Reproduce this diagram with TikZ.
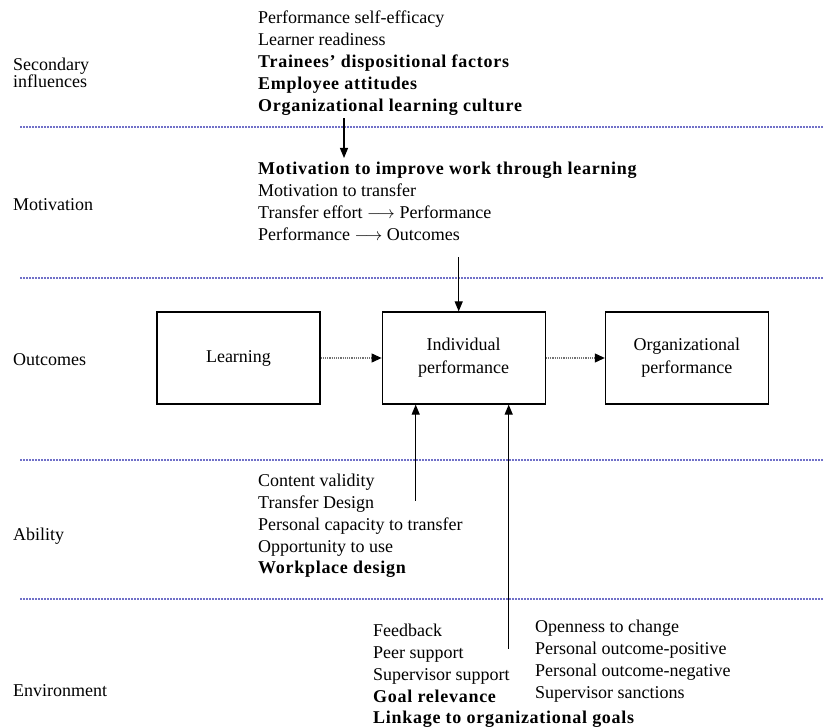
\documentclass[tikz,border=0pt]{standalone}
\usepackage{fontspec}
\setmainfont{Liberation Serif}[BoldFeatures={LetterSpace=4}]
\usetikzlibrary{shapes,arrows.meta,positioning}
\definecolor{rulecolor}{RGB}{112,112,200}

\begin{document}
\begin{tikzpicture}[x=1pt,y=-1pt,
    every node/.style={font=\fontsize{18}{21.8}\selectfont, inner sep=0pt},
    stagelabel/.style={anchor=base west},
    factorlist/.style={anchor=north west, align=left},
    outcomebox/.style={draw, line width=1.2pt, minimum width=163pt, minimum height=92pt, align=center, font=\fontsize{18}{23}\selectfont},
    divider/.style={draw=rulecolor, line width=1.2pt, dash pattern=on 2pt off 1pt},
    push/.style={line width=1.1pt, -{Triangle[length=10pt,width=8pt]}},
    flow/.style={draw=black!55, line width=1.1pt, dash pattern=on 1.2pt off 1pt, -{Triangle[length=10pt,width=9pt,color=black]}}]
    \useasboundingbox (0,0) rectangle (823,727);

    % Stage labels
    \node[factorlist, font=\fontsize{18}{17}\selectfont] (lblsec) at (13,58) {Secondary\\influences};
    \node[stagelabel] (lblmot) at (13,211) {Motivation};
    \node[stagelabel] (lblout) at (13,366) {Outcomes};
    \node[stagelabel] (lblabl) at (13,540) {Ability};
    \node[stagelabel] (lblenv) at (13,696) {Environment};

    % Stage dividers
    \foreach \y in {127,278,460,599}
        \draw[divider] (20,\y) -- (823,\y);

    % Factor lists
    \node[factorlist] (secfactors) at (258,11) {Performance self-efficacy\\Learner readiness\\\textbf{Trainees’ dispositional factors}\\\textbf{Employee attitudes}\\\textbf{Organizational learning culture}};
    \node[factorlist] (motfactors) at (258,162) {\textbf{Motivation to improve work through learning}\\Motivation to transfer\\Transfer effort $\longrightarrow$ Performance\\Performance $\longrightarrow$ Outcomes};
    \node[factorlist] (ablfactors) at (258,474) {Content validity\\Transfer Design\\Personal capacity to transfer\\Opportunity to use\\\textbf{Workplace design}};
    \node[factorlist] (envfactors) at (373,624) {Feedback\\Peer support\\Supervisor support\\\textbf{Goal relevance}\\\textbf{Linkage to organizational goals}};
    \node[factorlist] (envclimate) at (535,620) {Openness to change\\Personal outcome-positive\\Personal outcome-negative\\Supervisor sanctions};

    % Outcome boxes
    \node[outcomebox] (learning) at (238.5,358) {Learning};
    \node[outcomebox, right=61pt of learning] (indiv) {Individual\\performance};
    \node[outcomebox, right=59pt of indiv] (orgperf) {Organizational\\performance};

    % Influences
    \draw[push] ([shift={(86,3)}]secfactors.south west) -- ([shift={(86,-4)}]motfactors.north west);
    \draw[push] ([shift={(-5,-54)}]indiv.north) -- ([xshift=-5]indiv.north);
    \draw[push] ([shift={(-48,96)}]indiv.south) -- ([xshift=-48]indiv.south);
    \draw[push] ([shift={(45,244)}]indiv.south) -- ([xshift=45]indiv.south);
    \draw[flow] (learning) -- (indiv);
    \draw[flow] (indiv) -- (orgperf);
\end{tikzpicture}
\end{document}
